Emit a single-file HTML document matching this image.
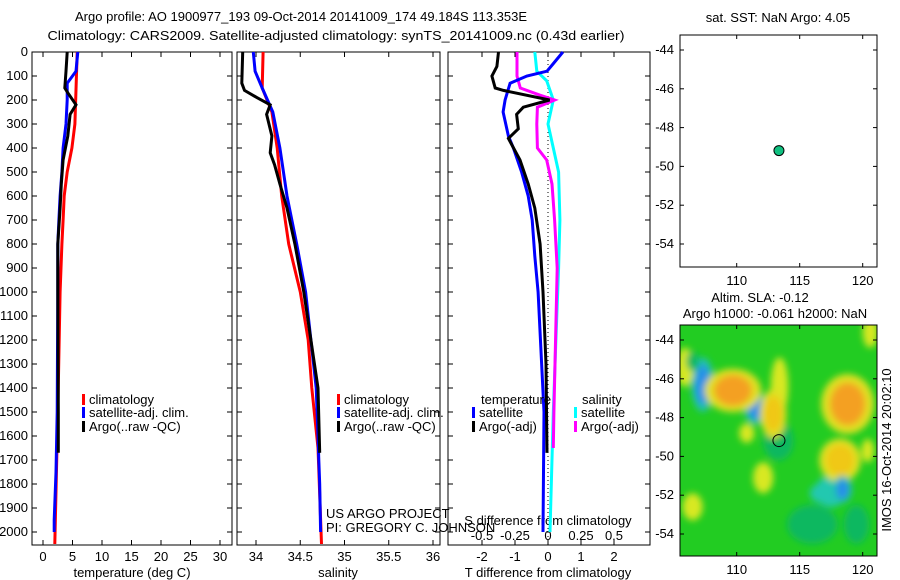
<!DOCTYPE html>
<html><head><meta charset="utf-8"><style>
body{margin:0;background:#fff}
svg{display:block;font-family:"Liberation Sans",sans-serif;font-size:13px}
</style></head><body>
<svg id="c" width="900" height="580" viewBox="0 0 900 580">
<defs><filter id="bl" x="-50%" y="-50%" width="200%" height="200%"><feGaussianBlur stdDeviation="3.5"/></filter>
<clipPath id="mc"><rect x="680" y="325" width="197" height="231"/></clipPath></defs>
<text x="301" y="21" text-anchor="middle" textLength="452" lengthAdjust="spacingAndGlyphs">Argo profile: AO 1900977_193 09-Oct-2014 20141009_174 49.184S 113.353E</text>
<text x="336" y="40" text-anchor="middle" textLength="577" lengthAdjust="spacingAndGlyphs">Climatology: CARS2009. Satellite-adjusted climatology: synTS_20141009.nc (0.43d earlier)</text>
<g id="g"></g>
</svg>
<script>
const depthsTC=[0,300,400,500,600,700,800,1000,1500,2050];
const tempClim=[5.8,5.4,4.9,4.1,3.6,3.4,3.2,2.9,2.5,2.0];
const depthsTS=[0,80,130,200,300,400,500,600,700,800,1000,1500,1750,1950,2000];
const tempSat=[5.9,5.6,4.1,4.1,3.9,3.4,3.2,2.9,2.7,2.5,2.5,2.4,2.2,1.9,1.9];
const depthsTA=[0,80,150,170,220,260,350,450,550,650,800,1000,1500,1670];
const tempArgo=[4.1,3.9,3.7,4.2,5.6,4.6,4.2,3.4,3.1,2.9,2.5,2.5,2.6,2.6];
const depthsSC=[0,150,250,400,600,800,1000,1200,1400,1650,2050];
const salClim=[34.08,34.07,34.18,34.24,34.29,34.37,34.50,34.59,34.63,34.70,34.74];
const depthsSS=[0,80,150,250,400,600,800,1000,1200,1400,1600,1700,1800,2000];
const salSat=[33.97,33.99,34.07,34.19,34.27,34.35,34.46,34.56,34.62,34.68,34.70,34.71,34.72,34.73];
const depthsSA=[0,130,160,190,220,260,350,420,470,550,650,800,1000,1400,1670];
const salArgo=[33.85,33.84,33.87,34.01,34.16,34.12,34.18,34.16,34.21,34.27,34.35,34.44,34.54,34.70,34.72];
const dTArgoDepth=[0,60,100,150,160,200,230,260,320,360,450,550,650,800,1000,1300,1670];
const dTArgo=[-1.5,-1.55,-1.7,-1.6,-1.35,0.05,-0.75,-0.95,-0.9,-1.2,-0.85,-0.6,-0.4,-0.24,-0.15,-0.06,-0.03];
const dTSatDepth=[0,50,80,100,130,200,250,350,400,500,600,700,850,1000,1500,2000];
const dTSat=[0.45,0.15,-0.03,-0.64,-1.15,-1.3,-1.36,-1.2,-1.05,-0.8,-0.6,-0.48,-0.4,-0.3,-0.12,-0.15];
const dSArgoDepth=[0,100,150,180,200,230,300,400,450,550,700,900,1500,1650];
const dSArgo=[-0.235,-0.235,-0.21,-0.06,0.05,-0.08,-0.085,-0.08,-0.01,0.03,0.05,0.07,0.045,0.04];
const dSSatDepth=[0,80,120,200,300,400,500,700,900,1200,1500,2000];
const dSSat=[-0.1,-0.085,-0.01,0.04,0.0,0.04,0.08,0.09,0.08,0.06,0.04,0.015];
const depthTicks=[0,100,200,300,400,500,600,700,800,900,1000,1100,1200,1300,1400,1500,1600,1700,1800,1900,2000];
const tempTicks=[0,5,10,15,20,25,30];
const salTicks=[34,34.5,35,35.5,36];
const dTTicks=[-2,-1,0,1,2];
const dSTicks=[-0.5,-0.25,0,0.25,0.5];
const dSTickLabels=["-0.5","-0.25","0","0.25","0.5"];
const latTicks=[-44,-46,-48,-50,-52,-54];
const lonTicks=[110,115,120];
const argoLon=113.353, argoLat=-49.184;
const blobLon=[113.3,116.0,117.5,119.5,107.3,111.5,105.9,106.5,109.7,113.4,112.9,110.8,118.8,118.2,112.1,106.5,120.6,120.4,118.4,116.8];
const blobLat=[-49.2,-53.5,-51.8,-53.5,-46.3,-47.5,-45.4,-45.1,-46.6,-46.4,-47.8,-48.8,-47.3,-50.2,-51.1,-52.6,-43.6,-49.7,-51.7,-51.9];
const blobVal=[-0.3,-0.3,-0.6,-0.3,-1,-1,0.5,0.0,1,0.6,0.8,0.5,1,0.8,0.5,0.5,0.6,0.5,-1,-0.6];
const blobRx=[1.2,2.0,1.3,1.0,0.6,0.6,0.7,0.5,1.5,0.7,0.7,0.6,1.4,1.1,0.8,0.8,0.6,0.5,0.5,1.0];
const blobRy=[1.0,1.0,0.8,1.0,1.0,0.6,1.0,0.5,0.8,1.5,0.9,0.5,1.1,0.8,0.8,0.7,0.8,0.6,0.5,0.5];

const NS="http://www.w3.org/2000/svg", G=document.getElementById('g');
function mk(t,a,p){const e=document.createElementNS(NS,t);for(const k in a)e.setAttribute(k,a[k]);(p||G).appendChild(e);return e;}
const yD=d=>52+0.24*d;
const xT=t=>43+5.9*t, xS=s=>256+88.5*(s-34), xdT=t=>548+33*t, xdS=s=>548+132*s;
function line(xs,ds,xf,col,name,w){
  const pts=xs.map((v,i)=>xf(v).toFixed(1)+','+yD(ds[i]).toFixed(1)).join(' ');
  const e=mk('polyline',{points:pts,fill:'none',stroke:col,'stroke-width':w||3});
  
  
}
function txt(x,y,s,anchor,name){const e=mk('text',{x:x,y:y,'text-anchor':anchor||'start'});e.textContent=s;
  
  return e;}
function frame(x0,x1,name){const e=mk('rect',{x:x0,y:52,width:x1-x0,height:493,fill:'none',stroke:'#000','stroke-width':1});
  
  
  depthTicks.forEach(d=>{mk('line',{x1:x0,x2:x0+5,y1:yD(d),y2:yD(d),stroke:'#000'});mk('line',{x1:x1,x2:x1-5,y1:yD(d),y2:yD(d),stroke:'#000'});});}
frame(32,232,'temperature-panel');frame(237,440,'salinity-panel');frame(448,650,'difference-panel');
depthTicks.forEach(d=>txt(28,yD(d)+4,String(d),'end','depth-tick-label'));
tempTicks.forEach(t=>{mk('line',{x1:xT(t),x2:xT(t),y1:545,y2:540,stroke:'#000'});mk('line',{x1:xT(t),x2:xT(t),y1:52,y2:57,stroke:'#000'});txt(xT(t),561,String(t),'middle','temp-tick-label');});
salTicks.forEach(t=>{mk('line',{x1:xS(t),x2:xS(t),y1:545,y2:540,stroke:'#000'});mk('line',{x1:xS(t),x2:xS(t),y1:52,y2:57,stroke:'#000'});txt(xS(t),561,String(t),'middle','salinity-tick-label');});
dTTicks.forEach(t=>{mk('line',{x1:xdT(t),x2:xdT(t),y1:545,y2:540,stroke:'#000'});txt(xdT(t),561,String(t),'middle','tdiff-tick-label');});
dSTicks.forEach((t,i)=>{mk('line',{x1:xdS(t),x2:xdS(t),y1:52,y2:57,stroke:'#000'});txt(xdS(t),540,dSTickLabels[i],'middle','sdiff-tick-label');});
txt(132,577,'temperature (deg C)','middle','temperature-axis-title');
txt(338,577,'salinity','middle','salinity-axis-title');
txt(548,577,'T difference from climatology','middle','tdiff-axis-title');
txt(548,525,'S difference from climatology','middle','sdiff-axis-title');
mk('line',{x1:548,x2:548,y1:52,y2:545,stroke:'#000','stroke-dasharray':'1,3'});
line(tempClim,depthsTC,xT,'#f00','temp-climatology-line');
line(tempSat,depthsTS,xT,'#00f','temp-satellite-line');
line(tempArgo,depthsTA,xT,'#000','temp-argo-line');
line(salClim,depthsSC,xS,'#f00','salinity-climatology-line');
line(salSat,depthsSS,xS,'#00f','salinity-satellite-line');
line(salArgo,depthsSA,xS,'#000','salinity-argo-line');
line(dSSat,dSSatDepth,xdS,'#0ff','sdiff-satellite-line');
line(dSArgo,dSArgoDepth,xdS,'#f0f','sdiff-argo-line');
line(dTSat,dTSatDepth,xdT,'#00f','tdiff-satellite-line');
line(dTArgo,dTArgoDepth,xdT,'#000','tdiff-argo-line');
function leg(x,y,col,s,name){mk('rect',{x:x,y:y-10,width:3,height:11,fill:col});txt(x+7,y,s,'start',name);}
leg(82,404,'#f00','climatology','legend-climatology');leg(82,417,'#00f','satellite-adj. clim.','legend-satellite');leg(82,431,'#000','Argo(..raw -QC)','legend-argo');
leg(337,404,'#f00','climatology','legend-climatology-2');leg(337,417,'#00f','satellite-adj. clim.','legend-satellite-2');leg(337,431,'#000','Argo(..raw -QC)','legend-argo-2');
txt(481,404,'temperature','start','legend-temperature-head');txt(582,404,'salinity','start','legend-salinity-head');
leg(472,417,'#00f','satellite','legend-t-satellite');leg(472,431,'#000','Argo(-adj)','legend-t-argo');
leg(574,417,'#0ff','satellite','legend-s-satellite');leg(574,431,'#f0f','Argo(-adj)','legend-s-argo');
txt(326,518,'US ARGO PROJECT','start','project-label');txt(326,532,'PI: GREGORY C. JOHNSON','start','pi-label');
const mx=l=>680+(l-105.5)*12.6;
function map(y0,h,lat44,name){
  const my=la=>lat44+(-44-la)*19.4;
  const fr=mk('rect',{x:680,y:y0,width:197,height:h,fill:'none',stroke:'#000'});
  
  
  latTicks.forEach(l=>{mk('line',{x1:680,x2:684,y1:my(l),y2:my(l),stroke:'#000'});mk('line',{x1:877,x2:873,y1:my(l),y2:my(l),stroke:'#000'});txt(674,my(l)+4,String(l),'end','lat-tick-label');});
  lonTicks.forEach(l=>{mk('line',{x1:mx(l),x2:mx(l),y1:y0,y2:y0+4,stroke:'#000'});mk('line',{x1:mx(l),x2:mx(l),y1:y0+h,y2:y0+h-4,stroke:'#000'});txt(mx(l),y0+h+18,String(l),'middle','lon-tick-label');});
  return my;
}
const my1=map(35,232,50,'sst-map');
const dot=mk('circle',{cx:mx(argoLon),cy:my1(argoLat),r:5,fill:'#10c080',stroke:'#000'});


txt(778,22,'sat. SST: NaN Argo: 4.05','middle','sst-map-title');
txt(760,302,'Altim. SLA: -0.12','middle','sla-title');
txt(775,318,'Argo h1000: -0.061 h2000: NaN','middle','argo-height-title');
const bg=mk('rect',{x:680,y:325,width:197,height:231,fill:'#22cc22'});


const gb=mk('g',{'clip-path':'url(#mc)'});const gf=mk('g',{filter:'url(#bl)'},gb);
const my2=la=>340+(-44-la)*19.4;
function col(v){if(v>0.85)return'#f4a020';if(v>0.65)return'#f0c818';if(v>0.3)return'#d8e820';if(v>-0.45)return'#10b860';if(v>-0.75)return'#20c8b0';return'#2890e8';}
blobVal.forEach((v,i)=>{
  if(Math.abs(v)>0.75){mk('ellipse',{cx:mx(blobLon[i]),cy:my2(blobLat[i]),rx:blobRx[i]*12.6*1.5,ry:blobRy[i]*19.4*1.4,fill:v>0?'#e0e020':'#20c0b0'},gf);}
  const e=mk('ellipse',{cx:mx(blobLon[i]),cy:my2(blobLat[i]),rx:blobRx[i]*12.6,ry:blobRy[i]*19.4,fill:col(v)},gf);
  
  
});
map(325,231,340,'sla-map');
const c2=mk('circle',{cx:mx(argoLon),cy:my2(argoLat),r:6,fill:'none',stroke:'#000'});


const rt=txt(0,0,'IMOS 16-Oct-2014 20:02:10','middle','imos-timestamp');
rt.setAttribute('transform','translate(891,450) rotate(-90)');
</script>
</body></html>
